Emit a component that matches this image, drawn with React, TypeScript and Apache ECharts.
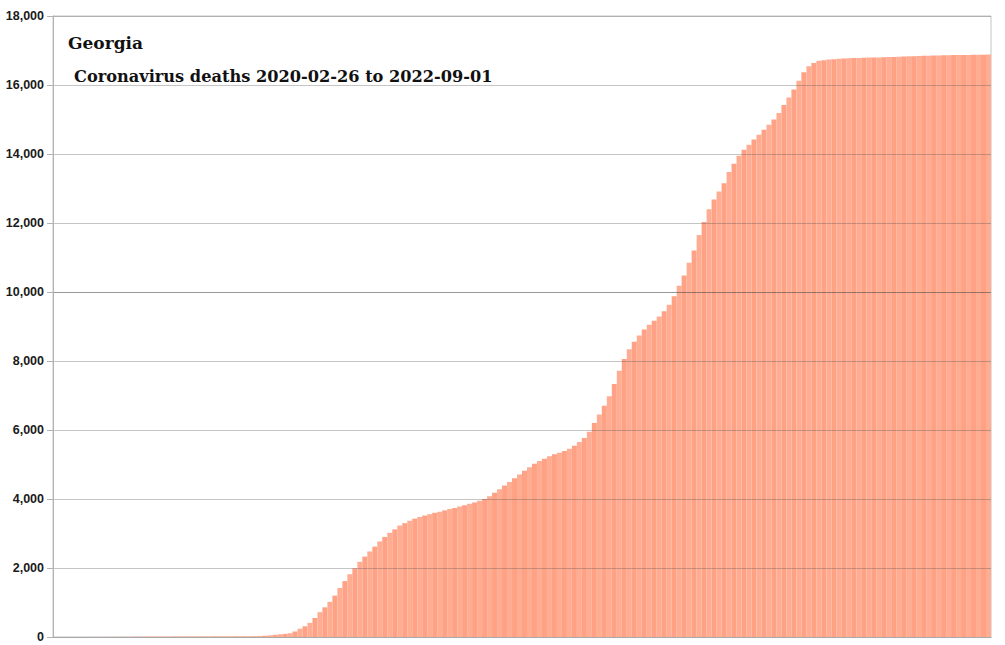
import React, { useEffect, useRef } from "react";
import * as echarts from "echarts";

// Cumulative coronavirus deaths, Georgia, sampled across 2020-02-26 .. 2022-09-01
const deaths2020 = [
  0, 0, 0, 0, 0, 0, 0, 1, 1, 2,
  3, 4, 4, 4, 5, 6, 8, 10, 12, 12,
  12, 12, 12, 13, 14, 15, 15, 15, 15, 15,
  16, 16, 17, 17, 17, 18, 19, 19, 19, 20,
  23, 28, 36, 48, 62, 78, 90, 110, 160, 240,
  310, 410, 550, 720, 860, 1020, 1200, 1420, 1620, 1820,
  1990, 2180, 2330,
];
const deaths2021 = [
  2480, 2620, 2770, 2900, 3020, 3120, 3230,
  3300, 3370, 3430, 3480, 3520, 3560, 3600, 3630, 3670, 3710,
  3740, 3780, 3820, 3860, 3900, 3950, 4000, 4080, 4180, 4280,
  4390, 4490, 4600, 4710, 4820, 4920, 5020, 5100, 5170, 5240,
  5300, 5340, 5390, 5460, 5540, 5650, 5770, 5950, 6200, 6450,
  6700, 6980, 7330, 7720, 8060, 8340, 8560, 8740, 8910, 9050,
  9170, 9290, 9440, 9630, 9880, 10180, 10480, 10850, 11200, 11650,
  12030, 12400, 12680, 12910, 13150, 13480, 13720, 13950,
];
const deaths2022 = [
  14120, 14270, 14420, 14560, 14700, 14850, 15000, 15190, 15420, 15640, 15870, 16120,
  16370, 16540, 16640, 16700, 16720, 16740, 16750, 16760, 16770, 16775,
  16780, 16785, 16790, 16795, 16800, 16800, 16805, 16810, 16815, 16820,
  16825, 16830, 16835, 16840, 16845, 16850, 16855, 16858, 16860, 16863,
  16866, 16868, 16870, 16873, 16876, 16878, 16880, 16882,
];

const startDate = "2020-02-26";
const endDate = "2022-09-01";
const yTicks = [0, 2000, 4000, 6000, 8000, 10000, 12000, 14000, 16000, 18000];
const titleMain = "Georgia";
const titleSub = `Coronavirus deaths ${startDate} to ${endDate}`;

const values = [...deaths2020, ...deaths2021, ...deaths2022];

function buildCategories(n: number): string[] {
  const s = new Date(startDate + "T00:00:00Z").getTime();
  const e = new Date(endDate + "T00:00:00Z").getTime();
  const out: string[] = [];
  for (let i = 0; i < n; i++) {
    const t = s + ((e - s) * i) / (n - 1);
    out.push(new Date(t).toISOString().slice(0, 10));
  }
  return out;
}

export default function App() {
  const ref = useRef<HTMLDivElement>(null);

  useEffect(() => {
    if (!ref.current) return;
    const chart = echarts.init(ref.current, null, { renderer: "svg" });
    const categories = buildCategories(values.length);
    const gridColors = yTicks.map((v) =>
      v === 10000 ? "rgba(70,70,70,0.55)" : "rgba(80,80,80,0.33)"
    );
    chart.setOption({
      animation: false,
      backgroundColor: "#ffffff",
      grid: {
        left: 53,
        right: 14,
        top: 16,
        bottom: 8,
        show: true,
        borderColor: "#c4c4c4",
        borderWidth: 1,
        backgroundColor: "transparent",
      },
      xAxis: {
        type: "category",
        data: categories,
        z: 5,
        boundaryGap: true,
        axisLine: { show: true, lineStyle: { color: "#a8a8a8", width: 1 } },
        axisTick: { show: false },
        axisLabel: { show: false },
        splitLine: { show: false },
      },
      yAxis: {
        type: "value",
        min: 0,
        max: 18000,
        interval: 2000,
        z: 5,
        axisLine: { show: true, lineStyle: { color: "#b3b3b3", width: 1 } },
        axisTick: { show: true, length: 6, lineStyle: { color: "#b3b3b3" } },
        axisLabel: {
          margin: 9,
          color: "#1a1a1a",
          fontFamily: "Liberation Sans, Arial, sans-serif",
          fontWeight: "bold",
          fontSize: 12.5,
          formatter: (v: number) => v.toLocaleString("en-US"),
        },
        splitLine: { show: true, lineStyle: { color: gridColors, width: 1 } },
      },
      graphic: [
        {
          type: "text",
          x: 68,
          y: 43,
          z: 10,
          style: {
            text: titleMain,
            fill: "#111111",
            font: "bold 17px 'DejaVu Serif', serif",
            align: "left",
            verticalAlign: "middle",
          },
        },
        {
          type: "text",
          x: 74,
          y: 76,
          z: 10,
          style: {
            text: titleSub,
            fill: "#111111",
            font: "bold 16.2px 'DejaVu Serif', serif",
            align: "left",
            verticalAlign: "middle",
          },
        },
      ],
      series: [
        {
          type: "bar",
          data: values,
          barCategoryGap: "0%",
          barGap: "0%",
          z: 2,
          itemStyle: {
            color: (p: any) => (p.dataIndex % 2 === 0 ? "#FFA184" : "#FFAD92"),
          },
        },
      ],
    });
    return () => chart.dispose();
  }, []);

  return (
    <div
      ref={ref}
      style={{ position: "fixed", left: 0, top: 0, width: 1005, height: 645 }}
    />
  );
}
